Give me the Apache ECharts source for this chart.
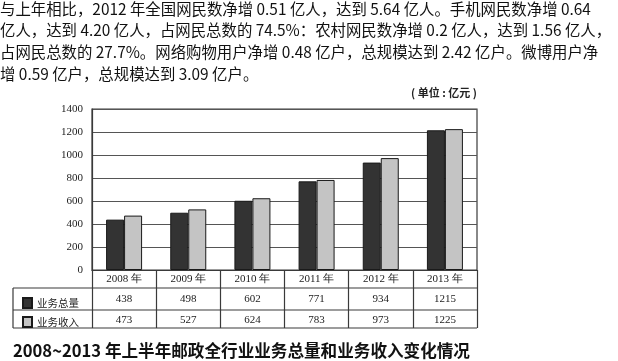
<!DOCTYPE html>
<html>
<head>
<meta charset="utf-8">
<script src="https://cdn.jsdelivr.net/npm/echarts@6/dist/echarts.min.js"></script>
<style>
html,body{margin:0;padding:0;background:#fff;}
#c{width:618px;height:361px;}
</style>
</head>
<body>
<div id="c"></div>
<script>
const years = ['2008 年','2009 年','2010 年','2011 年','2012 年','2013 年'];
const totalVolume = [438, 498, 602, 771, 934, 1215];
const revenue = [473, 527, 624, 783, 973, 1225];
const seriesNames = ['业务总量','业务收入'];
const yTicks = {min: 0, max: 1400, interval: 200};
const paragraphLines = [
  '与上年相比，2012 年全国网民数净增 0.51 亿人，达到 5.64 亿人。手机网民数净增 0.64',
  '亿人，达到 4.20 亿人，占网民总数的 74.5%：农村网民数净增 0.2 亿人，达到 1.56 亿人，',
  '占网民总数的 27.7%。网络购物用户净增 0.48 亿户，总规模达到 2.42 亿户。微博用户净',
  '增 0.59 亿户，总规模达到 3.09 亿户。'
];
const unitText = '( 单位 : 亿元 )';
const captionText = '2008~2013 年上半年邮政全行业业务总量和业务收入变化情况';

const chart = echarts.init(document.getElementById('c'));
const serif = '"Liberation Serif", "Times New Roman", serif';
const cjk = '"Noto Sans CJK SC", sans-serif';
const lineColor = '#3a3a3a';

const paraLineY = [10, 31, 53, 75];
const graphics = paragraphLines.map((t, i) => ({
  type: 'text', left: 0, top: paraLineY[i] - 9,
  style: {text: t, font: '15.4px ' + cjk, fill: '#111'}
}));
graphics.push({type: 'text', right: 141, top: 87,
  style: {text: unitText, font: 'bold 11px ' + cjk, fill: '#222', textAlign: 'right'}});
graphics.push({type: 'text', left: 13, top: 342,
  style: {text: captionText, font: 'bold 16.6px ' + cjk, fill: '#111'}});
// table frame lines
[288, 310, 328].forEach(y => graphics.push({type: 'line', shape: {x1: 13, y1: y, x2: 477, y2: y}, style: {stroke: lineColor, lineWidth: 1.2}}));
graphics.push({type: 'line', shape: {x1: 13, y1: 288, x2: 13, y2: 328}, style: {stroke: lineColor, lineWidth: 1.2}});

chart.setOption({
  animation: false,
  backgroundColor: '#fff',
  grid: {left: 92, right: 141, top: 109, bottom: 91, show: true, borderColor: lineColor, borderWidth: 1.2},
  legend: {
    orient: 'vertical', left: 17, top: 292, itemWidth: 9, itemHeight: 10, itemGap: 7,
    icon: 'rect',
    textStyle: {fontFamily: cjk, fontSize: 10.5, color: '#222'},
    data: seriesNames
  },
  xAxis: {
    type: 'category', data: years,
    axisLine: {lineStyle: {color: lineColor, width: 1.2}},
    axisTick: {show: true, interval: 0, length: 58, lineStyle: {color: lineColor, width: 1.2}},
    axisLabel: {
      interval: 0, margin: 0,
      formatter: (v, i) => '{y|' + v + '}\n{a|' + totalVolume[i] + '}\n{b|' + revenue[i] + '}',
      rich: {
        y: {fontFamily: serif, fontSize: 11, color: '#222', lineHeight: 19},
        a: {fontFamily: serif, fontSize: 11, color: '#222', lineHeight: 21},
        b: {fontFamily: serif, fontSize: 11, color: '#222', lineHeight: 20}
      }
    }
  },
  yAxis: {
    type: 'value', min: yTicks.min, max: yTicks.max, interval: yTicks.interval,
    axisLine: {show: true, lineStyle: {color: lineColor, width: 1.2}},
    axisTick: {show: false},
    axisLabel: {fontFamily: serif, fontSize: 11, color: '#222', margin: 9, formatter: v => String(v)},
    splitLine: {lineStyle: {color: '#555', width: 1.2}}
  },
  series: [
    {name: seriesNames[0], type: 'bar', data: totalVolume, barWidth: 18, barGap: '0%',
     itemStyle: {color: '#333', borderColor: '#1a1a1a', borderWidth: 1}},
    {name: seriesNames[1], type: 'bar', data: revenue, barWidth: 18, barGap: '0%',
     itemStyle: {color: '#c4c4c4', borderColor: '#1a1a1a', borderWidth: 1}}
  ],
  graphic: graphics
});
</script>
</body>
</html>
